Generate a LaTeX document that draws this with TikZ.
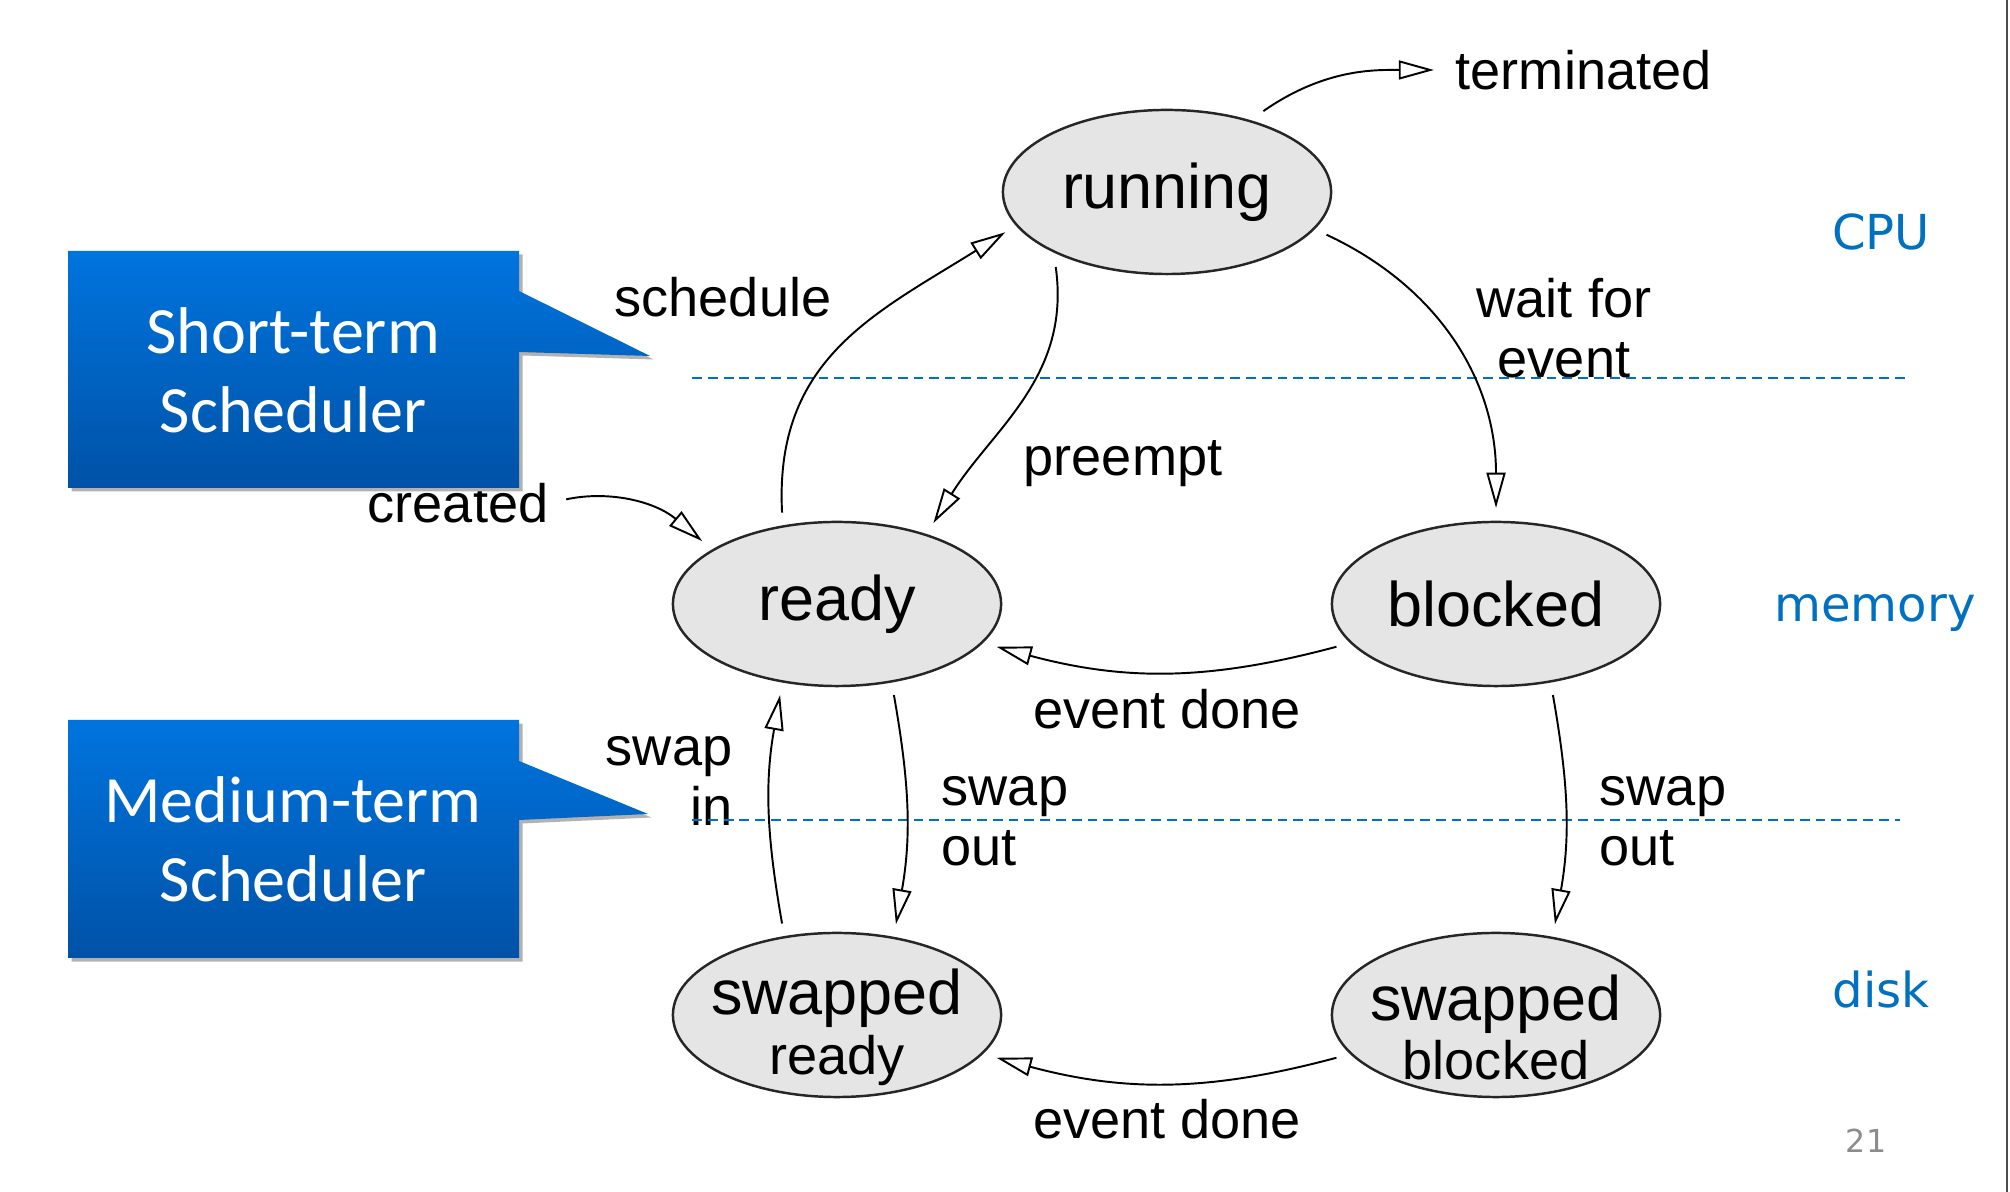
\documentclass[tikz,border=0pt]{standalone}
\usepackage{fontspec}
\setmainfont{Liberation Sans}
\newfontfamily\calloutfont{Carlito}
\newfontfamily\tierfont{DejaVu Sans}
\usetikzlibrary{arrows.meta,shapes.geometric}
\definecolor{tierblue}{RGB}{0,112,192}
\definecolor{calltop}{RGB}{0,116,222}
\definecolor{callbottom}{RGB}{0,82,166}
\newcommand\stfont{\fontsize{17.9}{17}\selectfont}
\newcommand\lblfont{\fontsize{15.4}{17}\selectfont}

\begin{document}
\begin{tikzpicture}[
      x=0.01cm, y=0.01cm,
      state/.style={ellipse, draw=black!85, fill=black!10, line width=0.7pt,
      minimum width=3.28cm, minimum height=1.64cm, inner sep=0pt,
      outer sep=4pt, align=center, font=\stfont},
      swstate/.style={state, inner sep=-6pt},
      lbl/.style={inner sep=0pt, font=\lblfont},
      tier/.style={text=tierblue, font=\tierfont\fontsize{13.7}{16}\selectfont},
      trans/.style={-{Triangle[open, length=10pt, width=5.4pt]}, line width=0.55pt},
      level/.style={dash pattern=on 2.8pt off 1.7pt, draw=tierblue, line width=0.45pt},
      callout/.style={top color=calltop, bottom color=callbottom,
      preaction={fill=black!30, transform canvas={xshift=1pt, yshift=-1pt}}},
      calltext/.style={text=white, align=center,
      font=\calloutfont\fontsize{18.8}{22.5}\selectfont}
    ]
    \useasboundingbox (0,0) rectangle (2010,1192);

    \node[state] (running) at (1167,1000) {running};
    \node[state] (ready) at (837,588) {ready};
    \node[state] (blocked) at (1496,588) {blocked};
    \node[swstate] (swready) at (837,177)
    {\rule{0pt}{20pt}swapped\\{\lblfont ready}};
    \node[swstate] (swblocked) at (1496,177)
    {\rule{0pt}{20pt}swapped\\{\lblfont blocked}};

    \node[lbl, anchor=west] (terminated) at (1455,1122) {terminated};
    \node[lbl] (schedule) at (723,895) {schedule};
    \node[lbl, align=center] (waitfor) at (1564,864) {wait for\\event};
    \node[lbl, anchor=west] (preempt) at (1023,728) {preempt};
    \node[lbl, anchor=east] (created) at (549,689) {created};
    \node[lbl] (doneup) at (1167,483) {event done};
    \node[lbl, align=right, anchor=east] (swapin) at (733,411) {swap\\in};
    \node[lbl, align=left, anchor=west] (swapoutl) at (941,371) {swap\\out};
    \node[lbl, align=left, anchor=west] (swapoutr) at (1599,371) {swap\\out};
    \node[lbl] (donelow) at (1167,73) {event done};

    \node[tier] (cpu) at (1881,960) {CPU};
    \node[tier] (memory) at (1875,579) {memory};
    \node[tier] (disk) at (1881,202) {disk};
    \node[text=black!45, font=\tierfont\fontsize{9}{10}\selectfont] (page)
    at (1866,51) {21};

    \draw[level] (692,814) -- (1906,814);
    \draw[level] (692,372) -- (1900,372);

    \shade[callout] (68,941) -- (519,941) -- (519,901) -- (650,836)
    -- (519,840) -- (519,704) -- (68,704) -- cycle;
    \node[calltext] (shortterm) at (293,822) {Short-term\\Scheduler};
    \shade[callout] (68,472) -- (519,472) -- (519,431) -- (648,378)
    -- (519,372) -- (519,234) -- (68,234) -- cycle;
    \node[calltext] (mediumterm) at (293,353) {Medium-term\\Scheduler};

    \draw[trans, shorten >=6pt] (running.40) to[out=35, in=180] (terminated.west);
    \draw[trans] (ready.121) to[out=93, in=212, looseness=1.1] (running.194);
    \draw[trans] (running.214) to[out=-82, in=58] (ready.40);
    \draw[trans] (running.-15) to[out=-25, in=90] (blocked.90);
    \draw[trans, shorten <=5pt] (created.east) to[out=12, in=140] (ready.155);
    \draw[trans] (blocked.195) to[out=195, in=-15] (ready.-15);
    \draw[trans] (swready.121) to[out=100, in=-100] (ready.238);
    \draw[trans] (ready.-58) to[out=-80, in=80] (swready.57);
    \draw[trans] (blocked.-58) to[out=-80, in=80] (swblocked.57);
    \draw[trans] (swblocked.195) to[out=195, in=-15] (swready.-15);

    \draw[black!70, line width=0.6pt] (2007,0) -- (2007,1192);
  \end{tikzpicture}
\end{document}
